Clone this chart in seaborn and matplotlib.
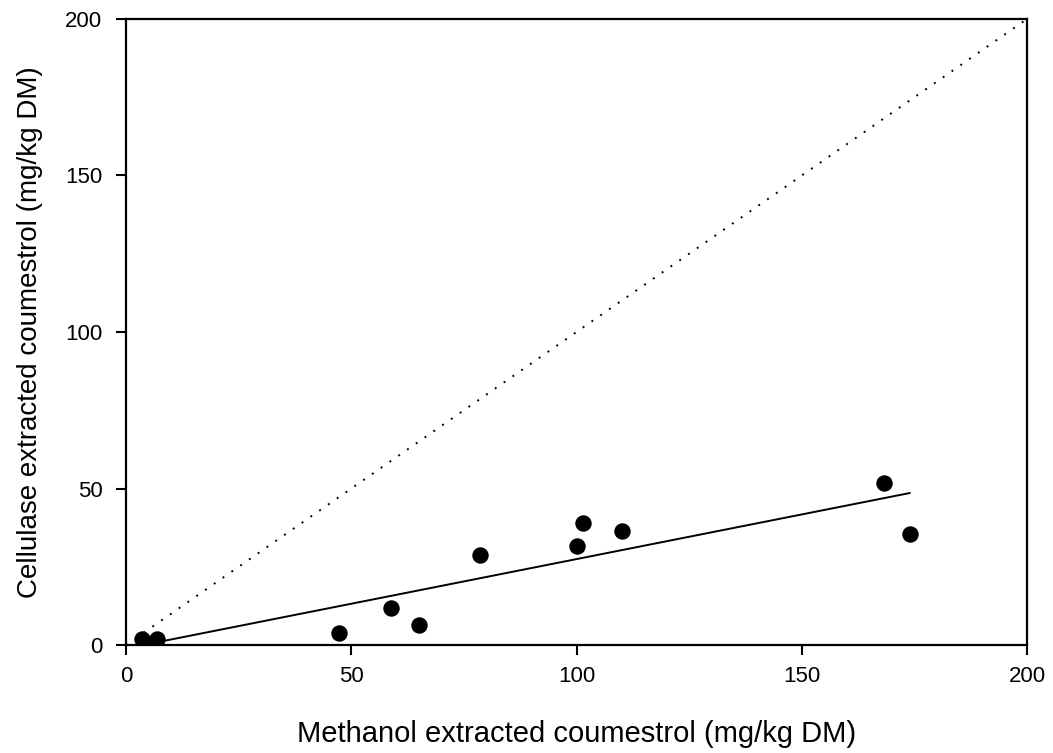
import matplotlib
matplotlib.use("Agg")
import matplotlib.pyplot as plt
import seaborn as sns
import numpy as np
import pandas as pd

# Coumestrol content by extraction method (mg/kg DM)
methanol = [3.5, 6.9, 47.3, 58.8, 65.0, 78.6, 100.1, 101.4, 110.1, 168.3, 174.0]
cellulase = [1.9, 1.9, 3.8, 11.8, 6.4, 28.8, 31.6, 39.0, 36.4, 51.8, 35.5]
ticks = [0, 50, 100, 150, 200]

df = pd.DataFrame({"methanol": methanol, "cellulase": cellulase})

sns.set_theme(style="ticks")
plt.rcParams["font.family"] = ["Liberation Sans", "DejaVu Sans"]

fig = plt.figure(figsize=(10.53, 7.53), dpi=100)
ax = fig.add_axes([0.1197, 0.1434, 0.8556, 0.8314])

# 1:1 reference line
ax.plot([0, 200], [0, 200], color="black", linestyle=(0, (1, 4.5)), linewidth=1.4, zorder=1)

sns.regplot(data=df, x="methanol", y="cellulase", ax=ax, ci=None,
            scatter_kws=dict(s=140, color="black", alpha=1, linewidths=0, zorder=3),
            line_kws=dict(color="black", linewidth=1.4, zorder=2))

ax.set_xlim(0, 200)
ax.set_ylim(0, 200)
ax.set_xticks(ticks)
ax.set_yticks(ticks)
ax.tick_params(direction="out", length=7, width=1.5, labelsize=16, colors="black", pad=8)
ax.tick_params(axis="y", pad=10)
for sp in ax.spines.values():
    sp.set_linewidth(1.6)
    sp.set_color("black")

ax.set_xlabel("Methanol extracted coumestrol (mg/kg DM)", fontsize=21, labelpad=24, color="black")
ax.set_ylabel("Cellulase extracted coumestrol (mg/kg DM)", fontsize=20, labelpad=16, color="black")

fig.savefig("out.png", dpi=100, facecolor="white")
